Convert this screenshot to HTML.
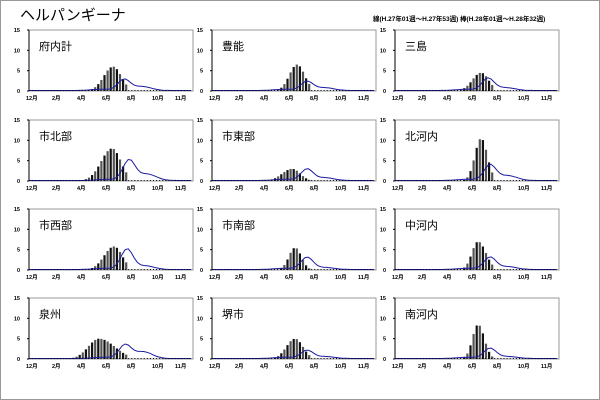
<!DOCTYPE html>
<html><head><meta charset="utf-8"><style>
body{margin:0;width:600px;height:400px;background:#fff;overflow:hidden;font-family:"Liberation Sans","Noto Sans CJK JP",sans-serif}
#frame{position:absolute;left:0;top:0;width:598px;height:398px;border:1px solid #999}
.t{position:absolute;white-space:nowrap;color:#000}
</style></head><body><div id="frame"></div>
<div class="t" style="left:20px;top:4px;font-size:15px">ヘルパンギーナ</div>
<div class="t" style="left:373px;top:13px;font-size:6.5px;font-weight:bold">線(H.27年01週～H.27年53週) 棒(H.28年01週～H.28年32週)</div>
<svg id="s" width="600" height="400" style="position:absolute;left:0;top:0" font-family="Liberation Sans, Noto Sans CJK JP, sans-serif">
<g id="g" font-size="5.5" font-weight="bold"></g>
<g font-size="11">
<text x="39" y="50">府内計</text><text x="222" y="50">豊能</text><text x="405" y="50">三島</text>
<text x="39" y="140">市北部</text><text x="222" y="140">市東部</text><text x="405" y="140">北河内</text>
<text x="39" y="229">市西部</text><text x="222" y="229">市南部</text><text x="405" y="229">中河内</text>
<text x="39" y="318">泉州</text><text x="222" y="318">堺市</text><text x="405" y="318">南河内</text>
</g>
</svg>
<script>
var L=[29,212,395],T=[30,120,209,298],W=164,H=61;
var P=[[84,6,3,2.6,95,2.7,1.0],[85,6.5,2.5,2.4,95,2.2,0.7],[86,4.5,2.8,2.4,93,3,0.7],
[83,8,3.5,2.8,100,5,1.6],[80,3,3.2,2.6,95,2.8,0.7],[86,10.5,2,2,95,3.8,1.2],
[85,5.8,3.2,2.6,98,5,0.9],[83,5.5,2,2,95,3,0.5],[83,7,2,2.5,95,3,0.7],
[70,5,3.5,5,96,3.3,1.7],[83,5,2.8,2.5,95,2,0.5],[83,8.5,1.8,2,95,2.5,0.5]];
var g=document.getElementById('g'),h='';
var mo=[[0,'12月'],[26,'2月'],[51,'4月'],[76,'6月'],[101,'8月'],[126,'10月'],[149,'11月']];
for(var i=0;i<12;i++){var x0=L[i%3],y0=T[Math.floor(i/3)],yb=y0+H,p=P[i];
h+='<rect x="'+x0+'" y="'+y0+'" width="'+W+'" height="'+H+'" fill="#fff" stroke="#999" stroke-width="1"/>';
h+='<line x1="'+x0+'" y1="'+y0+'" x2="'+x0+'" y2="'+yb+'" stroke="#000"/>';
[0,5,10,15].forEach(function(v){var y=yb-v*H/15;h+='<text x="'+(x0-9)+'" y="'+(y+2)+'" text-anchor="end">'+v+'</text><line x1="'+(x0-2)+'" x2="'+x0+'" y1="'+y+'" y2="'+y+'" stroke="#000"/>';});
mo.forEach(function(m){h+='<text x="'+(x0+m[0]-3)+'" y="'+(yb+9)+'">'+m[1]+'</text>';});
for(var k=0;k<53;k++){var ox=k*3.1+1;var s=ox<p[0]?p[2]:p[3];var d=(ox-p[0])/3.1/s;var v=p[1]*Math.exp(-d*d/2);
if(ox>100)v=0; if(v>0.2){var bh=v*H/15;h+='<rect x="'+(x0+ox-1)+'" y="'+(yb-bh)+'" width="2.2" height="'+bh+'" fill="'+(k%2?'#555':'#111')+'"/>';}}
var pts=[];for(var ox=0;ox<=W;ox+=3.1){var d=(ox-p[4])/6;var v=p[5]*Math.exp(-d*d/2)+p[6]*Math.exp(-Math.pow((ox-p[4]-18)/9,2)/2)+0.3*Math.exp(-Math.pow((ox-p[4]+22)/10,2)/2);
pts.push((x0+ox).toFixed(1)+','+(yb-v*H/15-0.5).toFixed(1));}
h+='<polyline points="'+pts.join(' ')+'" fill="none" stroke="#1a1aa0" stroke-width="1"/>';
h+='<line x1="'+x0+'" x2="'+(x0+W)+'" y1="'+(yb-0.5)+'" y2="'+(yb-0.5)+'" stroke="#000" stroke-dasharray="1 2.1"/>';
}
g.innerHTML=h;
</script>
</body></html>
